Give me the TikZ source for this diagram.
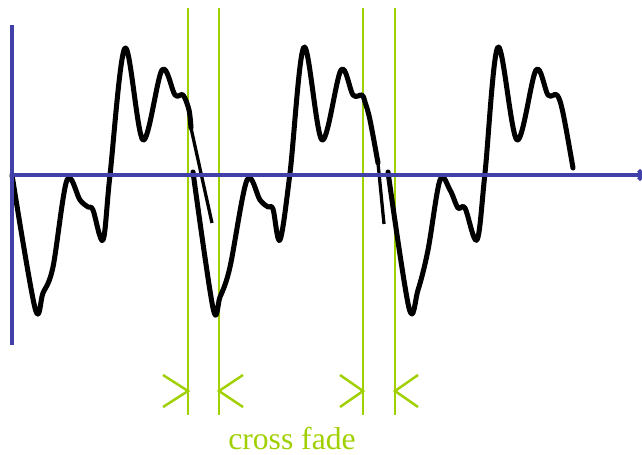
\documentclass[tikz,border=0pt]{standalone}
\usepackage{fontspec}
\setmainfont{Liberation Serif}
\usetikzlibrary{arrows.meta}
\definecolor{fadegreen}{RGB}{160,208,0}
\definecolor{axisblue}{RGB}{64,64,168}
\begin{document}
\begin{tikzpicture}[x=0.03cm,y=-0.03cm,
  wave/.style={line width=4.3pt,line join=round,line cap=round},
  tail/.style={line width=2.8pt},
  axis/.style={axisblue,line width=3.4pt},
  fade/.style={fadegreen,line width=2.1pt}]
\useasboundingbox (0,0) rectangle (642,455);
% fade lines
\foreach \x/\n in {188/a,219/b,363/c,395/d}{
  \coordinate (top\n) at (\x,8);
  \coordinate (bot\n) at (\x,415);
  \coordinate (m\n) at (\x,391);
  \draw[fade] (top\n) -- (bot\n);
}
\draw[fade] (ma) ++(-25,-16) -- (ma) -- ++(-25,16);
\draw[fade] (mb) ++(24,-16) -- (mb) -- ++(24,16);
\draw[fade] (mc) ++(-23,-16) -- (mc) -- ++(-23,16);
\draw[fade] (md) ++(23,-16) -- (md) -- ++(23,16);
\node[text=fadegreen,font=\fontsize{27}{30}\selectfont,anchor=base,inner sep=0pt] (label) at (292,449) {cross fade};
%
% waveform
\draw[wave] plot[smooth,tension=0.55] coordinates {(12,175) (35,308) (43,293) (53,267) (67,180) (80,200) (88,207) (93,210) (103,240) (110,175) (125,48) (143,140) (162,70) (175,95) (183,95) (189,110) (191,128)};
\draw[tail] (191,128) -- (212,223);
\draw[wave] plot[smooth,tension=0.55] coordinates {(193,172) (213,308) (220,297) (230,267) (247,180) (260,200) (268,207) (273,209) (280,240) (290,173) (304,47) (322,140) (341,70) (353,95) (362,95) (365,102) (370,120) (378,163)};
\draw[tail] (378,163) -- (384,224);
\draw[wave] plot[smooth,tension=0.55] coordinates {(388,172) (409,308) (418,290) (428,250) (440,180) (450,190) (458,208) (465,208) (477,240) (485,173) (498,47) (517,140) (536,70) (548,95) (557,95) (563,113) (573,168)};
%
% axes
\coordinate (o) at (12,175);
\coordinate (ytop) at (12,25);
\coordinate (ybot) at (12,345);
\coordinate (xend) at (646,175);
\draw[axis] (ytop) -- (ybot);
\draw[axis,-{Straight Barb[length=4pt,width=8pt]}] (o) -- (xend);
\end{tikzpicture}
\end{document}
